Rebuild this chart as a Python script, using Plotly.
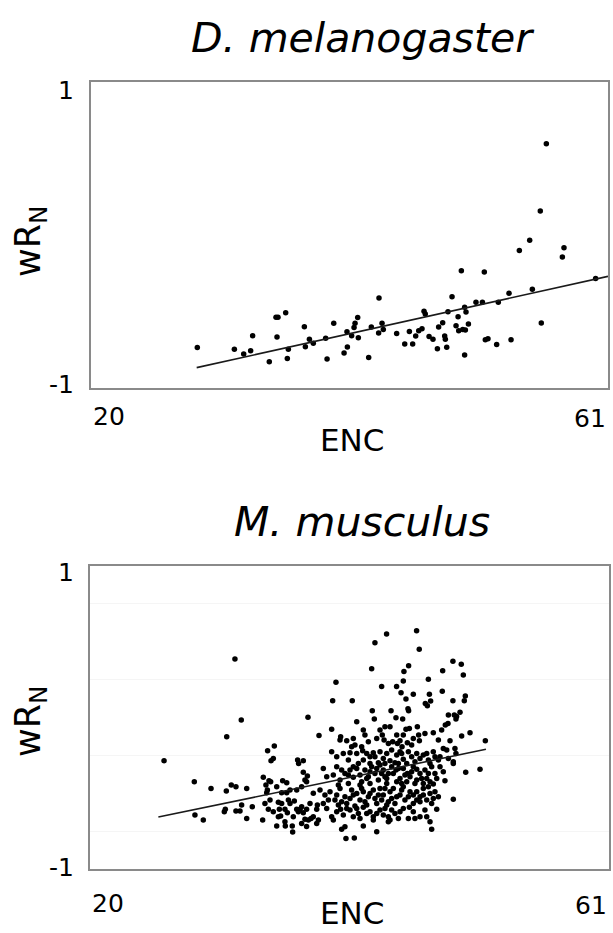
import plotly.graph_objects as go

# ---------------- data ----------------
dm_enc = [28.43, 31.37, 32.11, 32.66, 32.82, 34.14, 34.67, 34.83, 35.44, 34.75,
          35.57, 35.65, 36.92, 37.00, 37.32, 37.63, 38.61, 38.72, 39.25, 40.07,
          40.33, 40.30, 40.67, 40.86, 40.94, 41.15, 41.20, 42.02, 42.23, 42.84,
          42.81, 43.08, 43.18, 44.24, 44.88, 45.25, 45.51, 45.75, 45.99, 46.25,
          46.41, 46.51, 46.81, 47.12, 47.47, 47.57, 47.89, 48.05, 48.10, 48.21,
          48.31, 48.63, 48.95, 49.11, 49.16, 49.37, 49.48, 49.63, 49.63, 49.74,
          49.69, 49.93, 50.53, 51.04, 51.19, 51.27, 51.48, 52.17, 52.30, 53.15,
          53.31, 53.97, 54.79, 55.00, 55.63, 55.71, 56.11, 57.38, 57.51, 60.02]
dm_wr = [-0.736, -0.747, -0.778, -0.756, -0.658, -0.828, -0.538, -0.538, -0.508, -0.667,
         -0.808, -0.747, -0.599, -0.730, -0.682, -0.708, -0.675, -0.811, -0.577, -0.771,
         -0.732, -0.632, -0.658, -0.604, -0.577, -0.540, -0.671, -0.800, -0.601, -0.412,
         -0.641, -0.577, -0.617, -0.643, -0.712, -0.630, -0.712, -0.660, -0.625, -0.612,
         -0.499, -0.516, -0.664, -0.682, -0.743, -0.601, -0.573, -0.660, -0.682, -0.734,
         -0.501, -0.403, -0.593, -0.534, -0.625, -0.233, -0.617, -0.784, -0.473, -0.503,
         -0.621, -0.582, -0.440, -0.440, -0.242, -0.684, -0.678, -0.715, -0.440, -0.381,
         -0.684, -0.102, -0.035, -0.355, 0.157, -0.575, 0.597, -0.144, -0.083, -0.285]
dm_fit_enc = [28.38, 61.0]
dm_fit_wr = [-0.867, -0.270]

mm_enc = [
    31.45, 25.85, 31.95, 30.80, 37.22, 38.09, 34.56, 34.03, 34.30, 34.48,
    36.40, 36.48, 36.85, 36.85, 36.98, 37.17, 37.11, 28.24, 29.56, 30.77,
    31.16, 31.53, 32.38, 33.69, 33.90, 34.14, 34.27, 34.75, 35.22, 35.54,
    35.54, 35.14, 33.96, 34.01, 28.29, 28.95, 30.61, 30.69, 31.53, 31.85,
    31.98, 32.38, 32.82, 33.64, 33.82, 34.09, 34.88, 34.96, 35.06, 35.40,
    35.59, 35.40, 35.43, 34.75, 35.98, 36.01, 36.14, 36.33, 36.46, 36.59,
    36.72, 36.85, 36.98, 37.11, 37.25, 37.46, 37.64, 37.91, 38.04, 37.91,
    37.96,
    43.43, 42.51, 45.80, 46.01, 42.25, 44.80, 45.17, 39.43, 43.04, 44.22,
    44.75, 44.57, 44.96, 45.54, 46.73, 46.81, 46.91, 46.49, 46.65, 47.83,
    47.86, 48.67, 49.33, 49.49, 49.65, 49.57, 48.67, 39.17, 40.72, 42.30,
    42.46, 43.78, 44.17, 45.12, 45.17, 48.31, 48.78, 48.96, 48.91, 49.23,
    44.70,
    39.09, 39.80, 40.28, 41.07, 41.59, 41.72, 42.91, 43.09, 43.23, 43.30,
    43.70, 43.91, 44.23, 44.28, 44.49, 44.65, 44.96, 45.07, 45.23, 45.41,
    45.86, 45.96, 46.02, 47.12, 48.07, 48.28, 48.44, 49.36, 50.02, 51.23,
    39.09, 40.67, 40.54, 40.93, 41.46, 41.54, 42.38, 42.51, 42.91, 43.44,
    43.83, 44.49, 44.62, 44.75, 45.41, 45.81, 46.07, 46.33, 46.73, 47.12,
    47.25, 47.52, 47.91, 48.18, 48.83, 48.91, 48.70, 41.59, 41.20, 42.12,
    42.78, 43.70, 44.09, 45.02, 44.36,
    38.43, 38.70, 39.22, 39.88, 40.14, 40.54, 40.80, 41.07, 41.33, 41.72,
    41.86, 42.25, 42.51, 42.91, 43.17, 43.30, 43.57, 43.83, 44.17, 44.49,
    44.75, 45.07, 45.28, 45.54, 45.81, 46.07, 46.46, 46.60, 46.99, 47.25,
    47.65, 47.91, 48.04, 48.70, 49.68, 50.81, 39.62, 40.41, 41.33, 42.12,
    42.78, 43.44, 44.23, 45.02, 45.81, 46.33, 47.12,
    38.17, 38.56, 38.96, 39.35, 39.75, 40.14, 40.67, 41.07, 41.33, 41.59,
    41.99, 42.38, 42.78, 43.04, 43.30, 43.70, 43.83, 44.23, 44.62, 44.88,
    45.28, 45.54, 46.07, 46.33, 46.60, 46.86, 47.25, 46.99, 48.70, 38.43,
    39.62, 40.28, 40.93, 41.86, 42.65, 43.44, 44.09, 45.54, 46.07,
    38.70, 39.09, 39.22, 39.80, 40.01, 40.54, 40.80, 41.20, 41.59, 42.12,
    42.38, 42.91, 43.57, 43.70, 43.83, 44.49, 45.15, 45.23, 46.07, 46.86,
    47.39, 40.14, 39.88, 41.59, 42.38, 42.65, 43.57, 46.99, 40.22, 40.88,
    # denser core
    39.49, 39.75, 40.41, 40.80, 41.46, 41.99, 42.12, 42.65, 43.04, 43.44,
    43.96, 44.36, 44.62, 44.88, 45.41, 45.67, 46.20, 46.73, 46.86, 47.39,
    38.83, 39.49, 39.88, 40.54, 40.80, 41.46, 41.72, 42.12, 42.51, 42.91,
    43.17, 43.57, 43.96, 44.49, 44.75, 45.15, 45.81, 45.81, 46.33, 46.73,
    47.12, 47.52,
    39.49, 40.28, 41.07, 41.33, 41.86, 42.65, 43.17, 43.30, 44.09, 44.36,
    44.75, 45.54, 45.67, 46.46, 46.60,
    39.49, 40.01, 40.41, 41.07, 41.86, 42.12, 43.17, 43.30, 44.23, 45.15,
    45.67, 46.60, 46.86, 47.65, 48.31,
    39.75, 40.80, 41.99, 42.65, 43.57, 44.75, 45.54, 46.46, 47.52, 47.78,
    35.80, 36.06, 35.14, 34.48, 34.22, 35.67, 37.38, 37.64, 36.72, 36.33,
    35.80, 34.88, 37.11, 36.72]
mm_wr = [
    0.386, -0.285, -0.017, -0.127, 0.001, -0.118, -0.188, -0.219, -0.285, -0.270,
    -0.280, -0.303, -0.285, -0.362, -0.413, -0.386, -0.424, -0.424, -0.468, -0.485,
    -0.446, -0.457, -0.468, -0.395, -0.446, -0.417, -0.424, -0.457, -0.417, -0.430,
    -0.496, -0.496, -0.496, -0.479, -0.644, -0.677, -0.622, -0.606, -0.617, -0.617,
    -0.578, -0.666, -0.589, -0.677, -0.567, -0.606, -0.560, -0.606, -0.650, -0.606,
    -0.628, -0.688, -0.716, -0.716, -0.716, -0.756, -0.551, -0.606, -0.622, -0.606,
    -0.589, -0.628, -0.672, -0.606, -0.677, -0.666, -0.655, -0.606, -0.677, -0.699,
    -0.578,
    0.551, 0.494, 0.573, 0.450, 0.322, 0.303, 0.342, 0.232, 0.204, 0.204,
    0.241, 0.164, 0.122, 0.153, 0.252, 0.153, 0.109, 0.093, 0.078, 0.173,
    0.309, 0.371, 0.351, 0.281, 0.142, 0.111, 0.111, 0.111, 0.111, 0.045,
    -0.010, 0.045, -0.001, 0.058, 0.045, 0.017, 0.017, 0.006, -0.010, 0.034,
    -0.010,
    -0.078, -0.127, -0.153, -0.028, -0.083, -0.116, -0.083, -0.116, -0.149, -0.061,
    -0.061, -0.160, -0.116, -0.171, -0.153, -0.193, -0.078, -0.166, -0.072, -0.182,
    -0.061, -0.116, -0.153, -0.100, -0.050, -0.039, -0.153, -0.122, -0.100, -0.153,
    -0.226, -0.193, -0.232, -0.182, -0.193, -0.219, -0.232, -0.259, -0.226, -0.237,
    -0.215, -0.226, -0.237, -0.276, -0.259, -0.237, -0.270, -0.248, -0.281, -0.226,
    -0.259, -0.281, -0.204, -0.215, -0.204, -0.237, -0.292, -0.281, -0.303, -0.303,
    -0.298, -0.285, -0.298, -0.303, -0.303,
    -0.336, -0.391, -0.380, -0.347, -0.369, -0.347, -0.395, -0.336, -0.380, -0.347,
    -0.402, -0.325, -0.369, -0.314, -0.347, -0.391, -0.369, -0.325, -0.347, -0.402,
    -0.336, -0.369, -0.391, -0.325, -0.342, -0.369, -0.347, -0.402, -0.325, -0.369,
    -0.325, -0.358, -0.417, -0.303, -0.362, -0.342, -0.446, -0.435, -0.446, -0.435,
    -0.413, -0.435, -0.424, -0.424, -0.413, -0.435, -0.439,
    -0.479, -0.512, -0.490, -0.545, -0.468, -0.523, -0.479, -0.501, -0.545, -0.490,
    -0.523, -0.479, -0.512, -0.545, -0.468, -0.490, -0.534, -0.523, -0.479, -0.545,
    -0.490, -0.512, -0.523, -0.468, -0.545, -0.501, -0.490, -0.567, -0.540, -0.567,
    -0.578, -0.567, -0.584, -0.578, -0.567, -0.578, -0.567, -0.567, -0.556,
    -0.600, -0.655, -0.677, -0.606, -0.644, -0.611, -0.655, -0.633, -0.593, -0.622,
    -0.655, -0.611, -0.655, -0.677, -0.611, -0.622, -0.666, -0.593, -0.655, -0.688,
    -0.606, -0.721, -0.738, -0.716, -0.677, -0.754, -0.688, -0.738, -0.798, -0.795,
    # denser core
    -0.325, -0.413, -0.380, -0.325, -0.424, -0.391, -0.358, -0.336, -0.369, -0.402,
    -0.369, -0.336, -0.435, -0.380, -0.358, -0.435, -0.402, -0.369, -0.424, -0.402,
    -0.545, -0.512, -0.556, -0.534, -0.512, -0.468, -0.556, -0.501, -0.534, -0.468,
    -0.512, -0.556, -0.468, -0.512, -0.457, -0.523, -0.490, -0.545, -0.512, -0.457,
    -0.534, -0.523,
    -0.622, -0.600, -0.600, -0.666, -0.633, -0.633, -0.644, -0.600, -0.633, -0.666,
    -0.600, -0.622, -0.666, -0.611, -0.655,
    -0.259, -0.237, -0.281, -0.237, -0.237, -0.259, -0.270, -0.303, -0.248, -0.226,
    -0.292, -0.237, -0.303, -0.259, -0.270,
    -0.149, -0.138, -0.160, -0.138, -0.171, -0.116, -0.138, -0.105, -0.149, -0.083,
    -0.567, -0.655, -0.567, -0.622, -0.545, -0.545, -0.567, -0.500, -0.457, -0.478,
    -0.478, -0.655, -0.720, -0.699]
mm_fit_enc = [25.40, 51.28]
mm_fit_wr = [-0.657, -0.210]

x_range = [20, 61]
y_range = [-1, 1]
x_tick_labels = ["20", "61"]
y_tick_labels = ["-1", "1"]
titles = ["D. melanogaster", "M. musculus"]
x_title = "ENC"
y_title = "wR<sub>N</sub>"

# ---------------- figure ----------------
W, H = 613, 933
FONT = "DejaVu Sans"
fig = go.Figure()

fig.add_trace(go.Scatter(x=dm_enc, y=dm_wr, mode="markers", xaxis="x", yaxis="y",
                         marker=dict(size=5.5, color="black"), showlegend=False))
fig.add_trace(go.Scatter(x=dm_fit_enc, y=dm_fit_wr, mode="lines", xaxis="x", yaxis="y",
                         line=dict(color="#1a1a1a", width=1.6), showlegend=False))
fig.add_trace(go.Scatter(x=mm_enc, y=mm_wr, mode="markers", xaxis="x2", yaxis="y2",
                         marker=dict(size=5.5, color="black"), showlegend=False))
fig.add_trace(go.Scatter(x=mm_fit_enc, y=mm_fit_wr, mode="lines", xaxis="x2", yaxis="y2",
                         line=dict(color="#1a1a1a", width=1.6), showlegend=False))


def px_x(p):
    return p / W


def px_y(p):
    return 1 - p / H


axis_common = dict(showline=True, linecolor="#8a8a8a", linewidth=1.5, mirror=True,
                   zeroline=False, showticklabels=False, ticks="")

fig.update_layout(
    width=W, height=H,
    margin=dict(l=0, r=0, t=0, b=0),
    paper_bgcolor="white", plot_bgcolor="white",
    xaxis=dict(domain=[px_x(91), px_x(608)], range=x_range, anchor="y",
               showgrid=False, **axis_common),
    yaxis=dict(domain=[px_y(388), px_y(82)], range=y_range, anchor="x",
               showgrid=False, **axis_common),
    xaxis2=dict(domain=[px_x(90), px_x(609)], range=x_range, anchor="y2",
                showgrid=False, **axis_common),
    yaxis2=dict(domain=[px_y(869), px_y(566)], range=y_range, anchor="x2",
                showgrid=True, gridcolor="#f5f5f5", gridwidth=1,
                tickvals=[-0.75, -0.25, 0.25, 0.75], **axis_common),
)

ann = []
panels = [
    ("x", "y", 38, 90, 385, 416, 440, 242, titles[0]),
    ("x2", "y2", 522, 572, 867, 903, 913, 722, titles[1]),
]
for xa, ya, ty, y1, ym1, xly, ency, ytt, title in panels:
    ann.append(dict(text="<i>" + title + "</i>", xref="paper", yref="paper",
                    x=px_x(362), y=px_y(ty), xanchor="center", yanchor="middle",
                    showarrow=False, font=dict(family=FONT, size=41, color="black")))
    ann.append(dict(text=y_tick_labels[1], xref="paper", yref="paper",
                    x=px_x(76), y=px_y(y1), xanchor="right", yanchor="middle",
                    showarrow=False, font=dict(family=FONT, size=25, color="black")))
    ann.append(dict(text=y_tick_labels[0], xref="paper", yref="paper",
                    x=px_x(76), y=px_y(ym1), xanchor="right", yanchor="middle",
                    showarrow=False, font=dict(family=FONT, size=25, color="black")))
    ann.append(dict(text=x_tick_labels[0], xref=xa, yref="paper",
                    x=x_range[0], y=px_y(xly), xanchor="left", yanchor="middle",
                    showarrow=False, font=dict(family=FONT, size=25, color="black")))
    ann.append(dict(text=x_tick_labels[1], xref=xa, yref="paper",
                    x=x_range[1], y=px_y(xly + 2), xanchor="right", yanchor="middle",
                    showarrow=False, font=dict(family=FONT, size=25, color="black")))
    ann.append(dict(text=x_title, xref="paper", yref="paper",
                    x=px_x(352), y=px_y(ency), xanchor="center", yanchor="middle",
                    showarrow=False, font=dict(family=FONT, size=31, color="black")))
    ann.append(dict(text=y_title, xref="paper", yref="paper",
                    x=px_x(30), y=px_y(ytt), xanchor="center", yanchor="middle",
                    textangle=-90, showarrow=False,
                    font=dict(family=FONT, size=35, color="black")))

fig.update_layout(annotations=ann)
fig.write_html("out.html")
